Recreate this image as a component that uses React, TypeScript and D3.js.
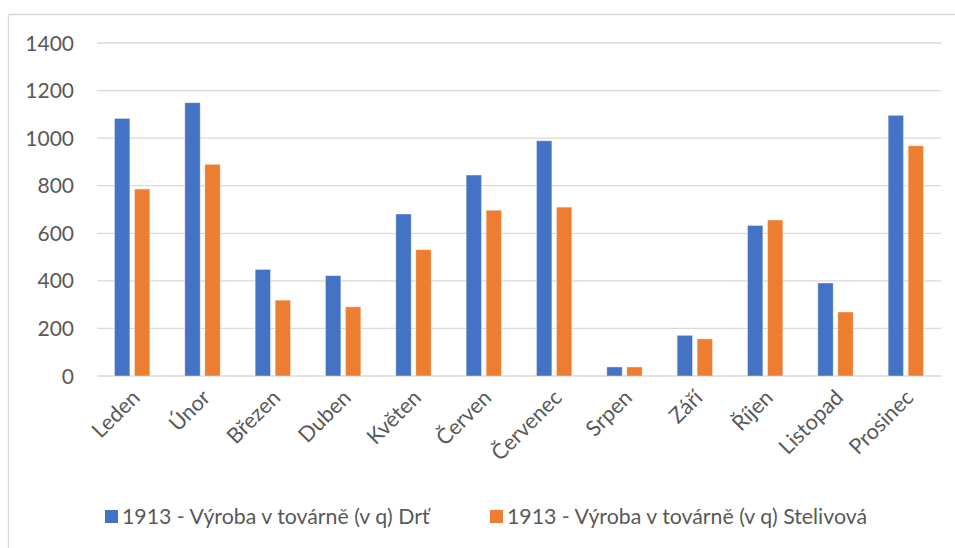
import React from "react";
import * as d3 from "d3";

const months = ["Leden", "Únor", "Březen", "Duben", "Květen", "Červen", "Červenec", "Srpen", "Září", "Říjen", "Listopad", "Prosinec"];
const seriesNames = ["1913 - Výroba v továrně (v q) Drť", "1913 - Výroba v továrně (v q) Stelivová"];
const drt = [1083, 1149, 448, 422, 681, 845, 989, 38, 171, 633, 391, 1096];
const stelivova = [786, 890, 319, 291, 531, 697, 710, 38, 156, 656, 269, 968];
const yTicks = [0, 200, 400, 600, 800, 1000, 1200, 1400];
const colors = ["#4472C4", "#ED7D31"];

const W = 955;
const H = 548;
const plotLeft = 97;
const plotRight = 941;
const plotTop = 43;
const plotBottom = 376;
const font = "Lato, 'Open Sans', sans-serif";
const textColor = "#595959";

export default function App() {
  const x0 = d3.scaleBand<string>().domain(months).range([plotLeft, plotRight]).paddingInner(0.497).paddingOuter(0.2485);
  const x1 = d3.scaleBand<number>().domain([0, 1]).range([0, x0.bandwidth()]).paddingInner(0.23);
  const y = d3.scaleLinear().domain([0, 1400]).range([plotBottom, plotTop]);
  const series = [drt, stelivova];

  return (
    <svg width={W} height={H} style={{ position: "absolute", left: 0, top: 0, background: "#fff" }}>
      <rect x={0} y={0} width={W} height={H} fill="#fff" />
      <line x1={8.5} y1={14.5} x2={W} y2={14.5} stroke="#d9d9d9" strokeWidth={1.3} />
      <line x1={8.5} y1={14.5} x2={8.5} y2={H} stroke="#d9d9d9" strokeWidth={1.3} />
      {yTicks.map((t) => (
        <g key={t}>
          <line x1={plotLeft} x2={plotRight} y1={y(t)} y2={y(t)} stroke="#d9d9d9" strokeWidth={1.3} />
          <text x={74} y={y(t)} dy="0.36em" textAnchor="end" fontFamily={font} fontSize={21} fill={textColor}>
            {t}
          </text>
        </g>
      ))}
      {series.map((vals, si) =>
        months.map((m, i) => (
          <rect
            key={`${si}-${m}`}
            x={(x0(m) as number) + (x1(si) as number)}
            y={y(vals[i])}
            width={x1.bandwidth()}
            height={y(0) - y(vals[i])}
            fill={colors[si]}
            stroke="#ffffff"
            strokeOpacity={0.5}
            strokeWidth={0.8}
          />
        ))
      )}
      {months.map((m) => {
        const cx = (x0(m) as number) + x0.bandwidth() / 2 + 9;
        const cy = 399;
        return (
          <text
            key={m}
            x={cx}
            y={cy}
            transform={`rotate(-45, ${cx}, ${cy})`}
            textAnchor="end"
            fontFamily={font}
            fontSize={21.5}
            fill={textColor}
          >
            {m}
          </text>
        );
      })}
      <g>
        <rect x={105} y={510} width={13} height={13} fill={colors[0]} />
        <text x={122} y={524} fontFamily={font} fontSize={21.3} fill={textColor}>
          {seriesNames[0]}
        </text>
        <rect x={490} y={510} width={13} height={13} fill={colors[1]} />
        <text x={507} y={524} fontFamily={font} fontSize={21.3} fill={textColor}>
          {seriesNames[1]}
        </text>
      </g>
    </svg>
  );
}
